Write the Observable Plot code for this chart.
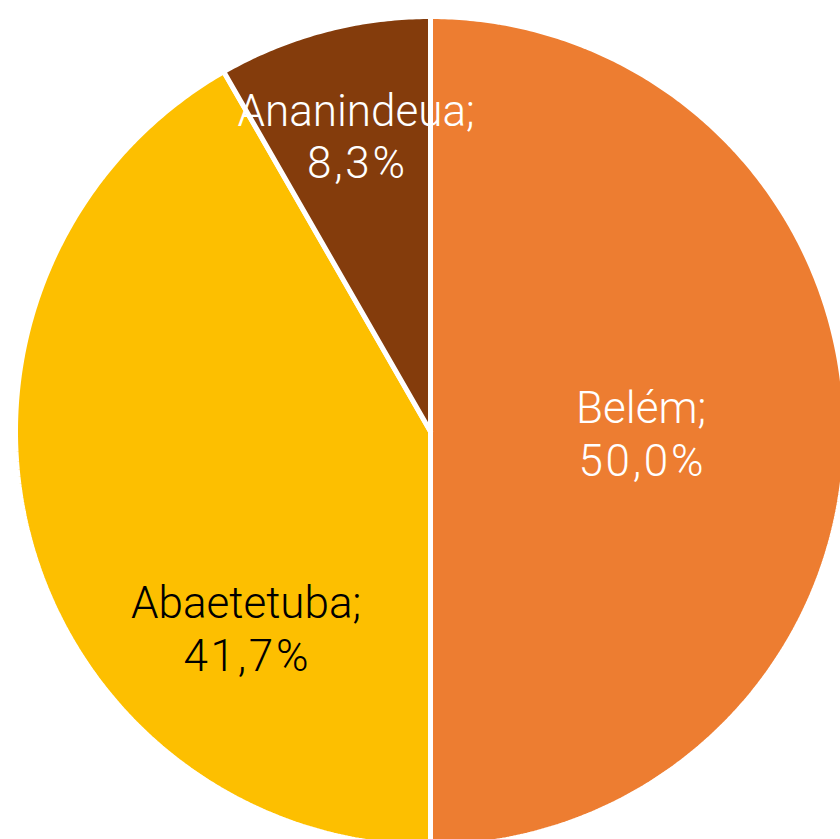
<!DOCTYPE html>
<html>
<head>
<meta charset="utf-8">
<script src="https://cdn.jsdelivr.net/npm/d3@7"></script>
<script src="https://cdn.jsdelivr.net/npm/@observablehq/plot@0.6"></script>
<style>
  html, body { margin: 0; padding: 0; background: #ffffff; }
  svg { display: block; }
</style>
</head>
<body>
<div id="chart"></div>
<script>
// ---- data ----
const cities = ["Belém", "Abaetetuba", "Ananindeua"];
const shares = [50.0, 41.7, 8.3];
const sliceColors = ["#ED7D31", "#FDBF00", "#843C0C"];
const labelColors = ["#ffffff", "#000000", "#ffffff"];

// ---- layout (pixels) ----
const W = 840, H = 839;
const cx = 430, cy = 431, R = 415;
// label nudges from the half-radius centroid (Excel "best fit")
const labelNudge = [[3, 1], [16, 143], [-21, -96]];

const pie = d3.pie().sort(null).startAngle(0).endAngle(2 * Math.PI)(shares);

const slicePoints = [];
pie.forEach((p, i) => {
  const name = cities[i];
  slicePoints.push({name, x: 0, y: 0});
  const steps = Math.max(2, Math.ceil((p.endAngle - p.startAngle) / (Math.PI / 360)));
  for (let k = 0; k <= steps; k++) {
    const a = p.startAngle + (p.endAngle - p.startAngle) * k / steps;
    slicePoints.push({name, x: R * Math.sin(a), y: R * Math.cos(a)});
  }
  slicePoints.push({name, x: 0, y: 0});
});

const fmt = v => v.toFixed(1).replace(".", ",") + "%";
const labels = pie.map((p, i) => {
  const a = (p.startAngle + p.endAngle) / 2;
  const r = R * 0.5;
  return {
    name: cities[i],
    text: `${cities[i]};\n${fmt(shares[i])}`,
    x: r * Math.sin(a) + labelNudge[i][0],
    y: r * Math.cos(a) - labelNudge[i][1],
    color: labelColors[i]
  };
});

const chart = Plot.plot({
  width: W,
  height: H,
  margin: 0,
  x: {domain: [-cx, W - cx], axis: null},
  y: {domain: [-(H - cy), cy], axis: null},
  color: {domain: cities, range: sliceColors},
  style: {background: "#ffffff"},
  marks: [
    Plot.line(slicePoints, {
      x: "x", y: "y", z: "name", fill: "name",
      stroke: "#ffffff", strokeWidth: 5, strokeLinejoin: "miter", curve: "linear"
    }),
    Plot.text(labels, {
      x: "x", y: "y", text: "text", fill: "color",
      fontSize: 44, fontWeight: 300, fontFamily: "Roboto, 'Liberation Sans', sans-serif",
      lineHeight: 1.2, textAnchor: "middle", lineAnchor: "middle"
    })
  ]
});
// wider digit spacing on the percentage lines, as in the reference typeface
d3.select(chart).selectAll("text").each(function () {
  const spans = this.querySelectorAll("tspan");
  if (spans.length > 1) {
    const s = spans[spans.length - 1];
    s.setAttribute("letter-spacing", "2.7");
    s.setAttribute("dx", "1.35");
  }
});
document.getElementById("chart").appendChild(chart);
</script>
</body>
</html>
